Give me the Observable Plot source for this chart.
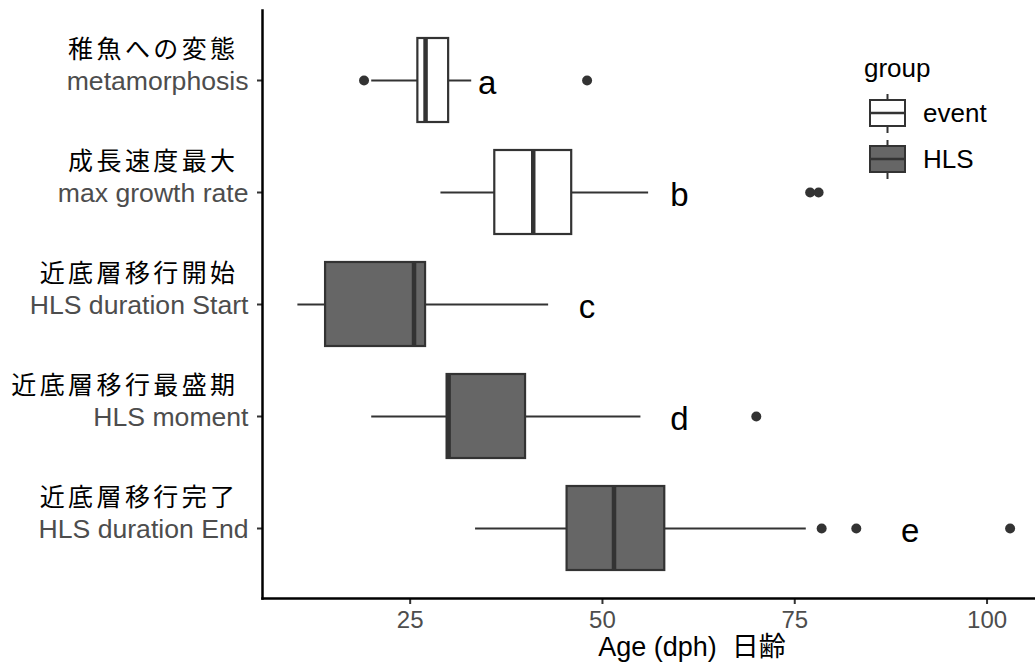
<!DOCTYPE html>
<html><head><meta charset="utf-8">
<script src="https://cdn.jsdelivr.net/npm/d3@7"></script>
<script src="https://cdn.jsdelivr.net/npm/@observablehq/plot@0.6"></script>
<style>
body{margin:0;background:#fff;}
#chart{position:relative;width:1035px;height:670px;overflow:hidden;}
#legend{position:absolute;left:0;top:0;}
</style></head><body><div id="chart"></div>
<script>
const categories = ["metamorphosis","max growth rate","HLS duration Start","HLS moment","HLS duration End"];
const jpLabels = ["稚魚への変態","成長速度最大","近底層移行開始","近底層移行最盛期","近底層移行完了"];
const groups = ["event","event","HLS","HLS","HLS"];
const whiskerLow = [20, 29, 10.4, 20, 33.5];
const q1 = [26, 36, 14, 29.8, 45.4];
const median = [27, 41, 25.5, 30, 51.5];
const q3 = [30, 46, 27, 40, 58.1];
const whiskerHigh = [33, 56, 43, 55, 76.5];
const outliers = [[19, 48], [77, 78.1], [], [70], [78.5, 83, 103]];
const letters = ["a","b","c","d","e"];
const letterX = [35, 60, 48, 60, 90];
const xTicks = [25, 50, 75, 100];
const xDomain = [5.8, 106.3];
const groupNames = ["event","HLS"];
const groupFills = ["#ffffff","#666666"];
const xTitle = "Age (dph)  日齢";
const legendTitle = "group";

const rows = categories.map((c, i) => ({
  cat: c, jp: jpLabels[i], group: groups[i], lo: whiskerLow[i], q1: q1[i],
  med: median[i], q3: q3[i], hi: whiskerHigh[i], letter: letters[i], lx: letterX[i]
}));
const outRows = categories.flatMap((c, i) => outliers[i].map(v => ({cat: c, x: v})));

const ink = "#333333";
const plot = Plot.plot({
  width: 1035, height: 670,
  marginLeft: 262, marginRight: 0, marginTop: 10, marginBottom: 72,
  style: {fontFamily: "'Liberation Sans', Arial, 'Noto Sans CJK JP', sans-serif", background: "white"},
  x: {domain: xDomain},
  y: {domain: categories, paddingInner: 0.25, paddingOuter: 0.227, axis: null},
  color: {domain: groupNames, range: groupFills},
  marks: [
    Plot.ruleY(rows, {y: "cat", x1: "lo", x2: "q1", stroke: ink, strokeWidth: 2}),
    Plot.ruleY(rows, {y: "cat", x1: "q3", x2: "hi", stroke: ink, strokeWidth: 2}),
    Plot.barX(rows, {y: "cat", x1: "q1", x2: "q3", fill: "group", stroke: ink, strokeWidth: 2.2}),
    Plot.tickX(rows, {y: "cat", x: "med", stroke: ink, strokeWidth: 4.5}),
    Plot.dot(outRows, {x: "x", y: "cat", r: 5, fill: ink, stroke: null}),
    Plot.text(rows, {x: "lx", y: "cat", text: "letter", fontSize: 33, fill: "black", dy: 3}),
    Plot.text(rows, {y: "cat", frameAnchor: "left", text: "jp", textAnchor: "end", dx: -24, dy: -31, fontSize: 25, fill: "black", fontFamily: "'Noto Sans CJK JP', sans-serif"}),
    Plot.text(rows, {y: "cat", frameAnchor: "left", text: "cat", textAnchor: "end", dx: -14, dy: 1, fontSize: 26.6, fill: "#4d4d4d"}),
    Plot.axisY({tickSize: 5, tickFormat: () => "", label: null, stroke: ink, strokeWidth: 2}),
    Plot.axisX({ticks: xTicks, tickSize: 6, tickPadding: 6, fontSize: 24, fill: "#4d4d4d", stroke: ink, strokeWidth: 2, label: null}),
    Plot.text([xTitle], {frameAnchor: "bottom", text: d => d, dx: 43, dy: 57, fontSize: 27, fill: "black"}),
    Plot.frame({anchor: "left", stroke: "black", strokeWidth: 2.5}),
    Plot.frame({anchor: "bottom", stroke: "black", strokeWidth: 2.5})
  ]
});
const chart = document.getElementById("chart");
chart.appendChild(plot);
d3.select(plot).selectAll("text")
  .filter(function() { return jpLabels.includes(this.textContent); })
  .attr("letter-spacing", "3.4")
  .style("letter-spacing", "3.4px");

// legend
const lg = d3.select(chart).append("svg").attr("id", "legend").attr("width", 1035).attr("height", 670)
  .style("font-family", "'Liberation Sans', Arial, sans-serif").style("pointer-events", "none");
lg.append("text").attr("x", 864).attr("y", 77).attr("font-size", 26).attr("fill", "black").text(legendTitle);
groupNames.forEach((g, i) => {
  const cy = 113 + i * 46;
  const k = lg.append("g");
  k.append("line").attr("x1", 887.5).attr("x2", 887.5).attr("y1", cy - 19).attr("y2", cy + 20).attr("stroke", ink).attr("stroke-width", 2);
  k.append("rect").attr("x", 870).attr("y", cy - 13).attr("width", 35).attr("height", 26).attr("fill", groupFills[i]).attr("stroke", ink).attr("stroke-width", 2);
  k.append("line").attr("x1", 870).attr("x2", 905).attr("y1", cy).attr("y2", cy).attr("stroke", ink).attr("stroke-width", 2.5);
  lg.append("text").attr("x", 923).attr("y", cy + 9).attr("font-size", 26).attr("fill", "black").text(g);
});
</script></body></html>
